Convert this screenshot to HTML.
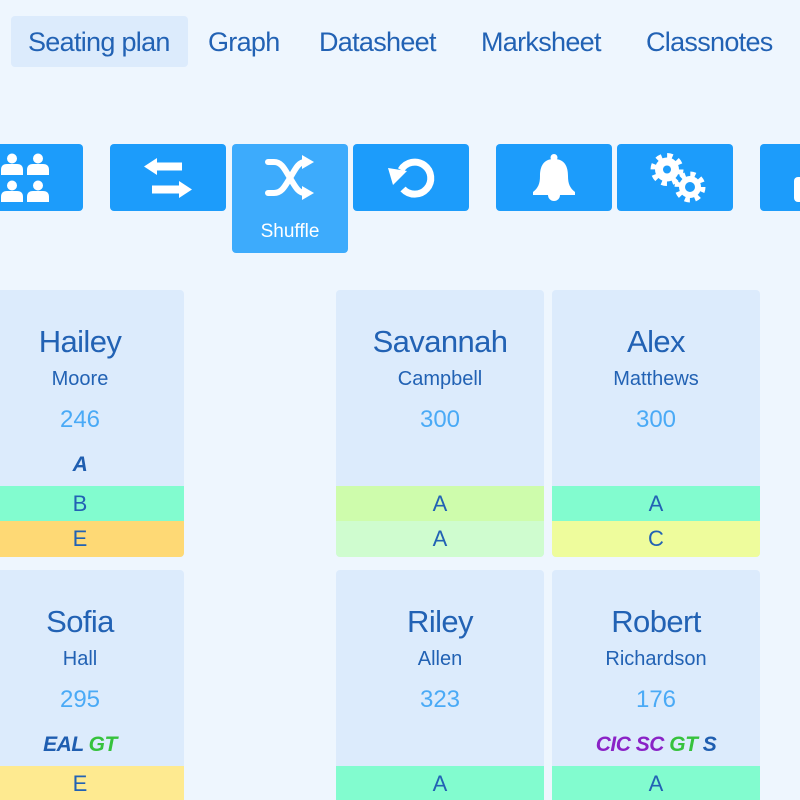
<!DOCTYPE html>
<html><head><meta charset="utf-8">
<style>
html,body{margin:0;padding:0;width:800px;height:800px;overflow:hidden}
body{background:#eef6fe;position:relative;font-family:"Liberation Sans",sans-serif;color:#1f5eb0}
.tabhl{position:absolute;left:11px;top:16px;width:177px;height:51px;background:#dcebfc;border-radius:4px}
.tab{position:absolute;top:29px;font-size:27px;line-height:27px;letter-spacing:-0.7px;color:#2262b4;white-space:nowrap}
.btn{position:absolute;top:144px;width:116px;height:67px;background:#1c9cfb;border-radius:4px}
.btn.sh{background:#3dabfc;height:109px}
.shl{position:absolute;left:232px;width:116px;top:222px;text-align:center;color:#fff;font-size:19px;line-height:19px}
.card{position:absolute;width:208px;height:267px;background:#dcebfc;border-radius:4px;overflow:hidden}
.card div{position:absolute;left:0;width:208px;text-align:center;white-space:nowrap}
.fn{top:36px;font-size:31px;line-height:31px;letter-spacing:-0.6px;color:#2262b4}
.ln{top:79px;font-size:20px;line-height:20px;color:#2262b4}
.num{top:118px;font-size:24px;line-height:24px;color:#4aaaf6}
.tag{top:164px;font-size:21px;line-height:21px;font-weight:bold;font-style:italic;letter-spacing:-0.5px}
.b1,.b2{height:36px;font-size:22px;line-height:36px;color:#2262b4}
.b1{top:196px}
.b2{top:231px}
.bl{color:#1f5eb0}.gr{color:#36c23c}.pu{color:#8a22c6}
</style></head><body>
<div class="tabhl"></div>
<div class="tab" style="left:28px">Seating plan</div>
<div class="tab" style="left:208px">Graph</div>
<div class="tab" style="left:319px">Datasheet</div>
<div class="tab" style="left:481px">Marksheet</div>
<div class="tab" style="left:646px">Classnotes</div>

<div class="btn" style="left:-33px"></div>
<div class="btn" style="left:110px"></div>
<div class="btn sh" style="left:232px"></div>
<div class="btn" style="left:353px"></div>
<div class="btn" style="left:496px"></div>
<div class="btn" style="left:617px"></div>
<div class="btn" style="left:760px"></div>
<div class="shl">Shuffle</div>

<svg width="800" height="260" style="position:absolute;left:0;top:0" xmlns="http://www.w3.org/2000/svg">
 <g fill="#fff">
  <circle cx="12" cy="158.5" r="5"/><circle cx="38" cy="158.5" r="5"/>
  <circle cx="12" cy="185.5" r="5"/><circle cx="38" cy="185.5" r="5"/>
  <path d="M1,175 V170 Q1,164 7,164 H17 Q23,164 23,170 V175 Z"/>
  <path d="M27,175 V170 Q27,164 33,164 H43 Q49,164 49,170 V175 Z"/>
  <path d="M1,202 V197 Q1,191 7,191 H17 Q23,191 23,197 V202 Z"/>
  <path d="M27,202 V197 Q27,191 33,191 H43 Q49,191 49,197 V202 Z"/>
  <polygon points="144,166.5 157,158 157,162.5 182,162.5 182,170.5 157,170.5 157,175"/>
  <polygon points="192,189.5 179,181 179,185.5 152,185.5 152,193.5 179,193.5 179,198"/>
  <circle cx="554" cy="157.5" r="3.5"/>
  <path d="M554,159 C543,159 540,167 540,176 C540,184 538,188 533,192 V195 H575 V192 C570,188 568,184 568,176 C568,167 565,159 554,159 Z"/>
  <path d="M548,195 A6,6 0 0 0 560,195 Z"/>
  <circle cx="667" cy="169.5" r="12"/>
  <circle cx="667" cy="169.5" r="14" fill="none" stroke="#fff" stroke-width="5" stroke-dasharray="5.5 5.5"/>
  <circle cx="690" cy="187" r="11"/>
  <circle cx="690" cy="187" r="13" fill="none" stroke="#fff" stroke-width="5" stroke-dasharray="5.1 5.1"/>
  <rect x="794" y="177" width="20" height="25" rx="4"/>
 </g>
 <circle cx="667" cy="169.5" r="4" fill="#1c9cfb"/>
 <circle cx="690" cy="187" r="5" fill="#1c9cfb"/>
 <g fill="none" stroke="#fff" stroke-width="6" stroke-linecap="round">
  <path d="M268,162 H274 C282,162 285,170 290,178 C295,186 298,193 305,193 H306"/>
  <path d="M268,193 H274 C282,193 285,186 290,178 C295,170 298,162 305,162 H306"/>
 </g>
 <g fill="#fff">
  <polygon points="302,155 314,162 302,169"/>
  <polygon points="302,186 314,193 302,200"/>
 </g>
 <path d="M401,170 A16,16 0 1 1 403,189" fill="none" stroke="#fff" stroke-width="7"/>
 <polygon points="388,168 407,171 393,185" fill="#fff"/>
</svg>

<div class="card" style="left:-24px;top:290px">
 <div class="fn">Hailey</div><div class="ln">Moore</div><div class="num">246</div>
 <div class="tag"><span class="bl">A</span></div>
 <div class="b1" style="background:#82fccf">B</div>
 <div class="b2" style="background:#fed975">E</div>
</div>
<div class="card" style="left:336px;top:290px">
 <div class="fn">Savannah</div><div class="ln">Campbell</div><div class="num">300</div>
 <div class="b1" style="background:#cefcac">A</div>
 <div class="b2" style="background:#cffccf">A</div>
</div>
<div class="card" style="left:552px;top:290px">
 <div class="fn">Alex</div><div class="ln">Matthews</div><div class="num">300</div>
 <div class="b1" style="background:#82fccf">A</div>
 <div class="b2" style="background:#eefc9c">C</div>
</div>

<div class="card" style="left:-24px;top:570px">
 <div class="fn">Sofia</div><div class="ln">Hall</div><div class="num">295</div>
 <div class="tag"><span class="bl">EAL</span> <span class="gr">GT</span></div>
 <div class="b1" style="background:#feea90">E</div>
</div>
<div class="card" style="left:336px;top:570px">
 <div class="fn">Riley</div><div class="ln">Allen</div><div class="num">323</div>
 <div class="b1" style="background:#82fccf">A</div>
</div>
<div class="card" style="left:552px;top:570px">
 <div class="fn">Robert</div><div class="ln">Richardson</div><div class="num">176</div>
 <div class="tag"><span class="pu">CIC</span> <span class="pu">SC</span> <span class="gr">GT</span> <span class="bl">S</span></div>
 <div class="b1" style="background:#82fccf">A</div>
</div>
</body></html>
